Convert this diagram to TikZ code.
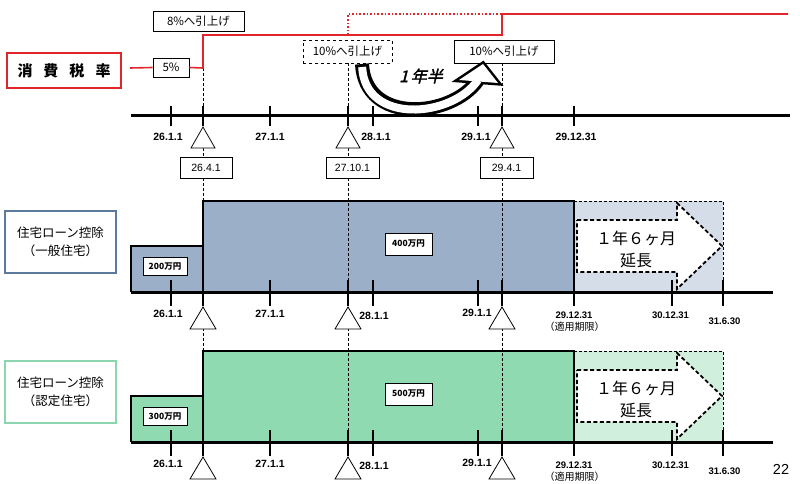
\documentclass[tikz,border=0pt]{standalone}
\usepackage{fontspec}
\setmainfont{Noto Sans CJK JP}
\newfontfamily\latinf{Liberation Sans}
\newfontfamily\jpslant[FakeSlant=0.25,FakeBold=2]{Noto Sans CJK JP}
\definecolor{taxred}{HTML}{E0262B}
\definecolor{bluefill}{HTML}{9BAFC9}
\definecolor{bluelight}{HTML}{D5DDE8}
\definecolor{blueedge}{HTML}{5B7A9C}
\definecolor{greenfill}{HTML}{8FDAB0}
\definecolor{greenlight}{HTML}{D0F0DD}
\definecolor{greenedge}{HTML}{8CD5AE}
\tikzset{
  tline/.style={line width=3pt},
  tickline/.style={line width=2pt},
  guide/.style={line width=0.6pt, dash pattern=on 3pt off 2pt},
  wbox/.style={draw, fill=white, line width=0.9pt, inner sep=0pt, align=center},
  jpbox/.style={wbox, font=\fontsize{11.5}{13}\selectfont},
  manbox/.style={wbox, font=\bfseries\fontsize{8.5}{10}\selectfont},
  datebox/.style={wbox, font=\latinf\fontsize{10.5}{12}\selectfont, minimum height=21pt},
  datelab/.style={font=\latinf\bfseries\fontsize{10.5}{12}\selectfont, inner sep=0pt},
  smalldate/.style={font=\latinf\bfseries\fontsize{9.5}{11}\selectfont, inner sep=0pt},
  tri/.style={draw, fill=white, line width=0.8pt},
  redline/.style={taxred, line width=1.6pt},
}
\begin{document}
\begin{tikzpicture}[x=1pt,y=-1pt]
\useasboundingbox (0,0) rectangle (800,484);

% ---------- sections 2 and 3: fills ----------
\foreach \oy/\fc/\lc in {0/bluefill/bluelight, 150/greenfill/greenlight}{
  \fill[\fc] (131,{246+\oy}) rectangle (203,{292+\oy});
  \fill[\fc] (203,{201+\oy}) rectangle (574,{292+\oy});
  \fill[\lc] (574,{201+\oy}) rectangle (723,{292+\oy});
}

% ---------- guide lines ----------
\draw[guide] (203,68) -- (203,470);
\draw[guide] (348,63) -- (348,470);
\draw[guide] (502,63) -- (502,470);

% ---------- top section ----------
\node[draw=taxred, line width=2pt, minimum width=114pt, minimum height=35pt, inner sep=0pt,
      font=\bfseries\fontsize{15}{17}\selectfont] (tax) at (64,70.5)
      {消\hspace{11pt}費\hspace{11pt}税\hspace{11pt}率};
\node[jpbox, minimum width=36pt, minimum height=19pt] (five) at (171,67.5) {5\%};
\node[jpbox, minimum width=91pt, minimum height=20pt] (eight) at (198.5,21) {8\%へ引上げ};
\node[jpbox, dashed, minimum width=89pt, minimum height=23pt] (tenA) at (347.5,51.5) {10\%へ引上げ};
\node[jpbox, minimum width=100pt, minimum height=23pt] (tenB) at (504,51.5) {10\%へ引上げ};

\draw[redline] (130,68) -- (five.west);
\draw[redline] (five.east) -- (203,68) -- (203,35) -- (502,35) -- (502,14) -- (788,14);
\draw[redline, dotted] (348,35) -- (348,14) -- (502,14);

% curved arrow 1年半
\draw[line width=14pt] (362,64) .. controls (365,125) and (452,118) .. (478,80);
\draw[line width=5pt, line join=miter] (483,64) -- (498,83) -- (459,80) -- cycle;
\draw[line width=8pt, white, shorten <=3pt] (362,64) .. controls (365,125) and (452,118) .. (478,80);
\fill[white] (483,64) -- (498,83) -- (459,80) -- cycle;
\node[font=\jpslant\fontsize{16}{18}\selectfont] (oneyh) at (421,76) {1\,年半};

% timeline 1
\draw[tline] (131,116) -- (790,116);
\foreach \x in {171,203,270,348,373,478,502,574}{
  \draw[tickline] (\x,106) -- (\x,126);
}
\node[datelab] (t1a) at (168,137) {26.1.1};
\node[datelab] (t1b) at (270,137) {27.1.1};
\node[datelab] (t1c) at (376,137) {28.1.1};
\node[datelab] (t1d) at (476,137) {29.1.1};
\node[datelab] (t1e) at (576,137) {29.12.31};
\foreach \x in {203,348,502}{
  \draw[tri] (\x,127) -- ({\x+12},148) -- ({\x-12},148) -- cycle;
}
\node[datebox, minimum width=52pt] (dA) at (206,168) {26.4.1};
\node[datebox, minimum width=53pt] (dB) at (352.5,168) {27.10.1};
\node[datebox, minimum width=53pt] (dC) at (506.5,168) {29.4.1};

% ---------- sections 2 and 3 ----------
\foreach \oy/\ec/\kind/\low/\high/\id in {0/blueedge/一般住宅/200/400/a, 150/greenedge/認定住宅/300/500/b}{
  % borders
  \draw[line width=1.5pt] (131,{292+\oy}) -- (131,{246+\oy}) -- (203,{246+\oy});
  \draw[line width=2.5pt] (203,{292+\oy}) -- (203,{201+\oy}) -- (574,{201+\oy}) -- (574,{292+\oy});
  \draw[line width=1pt, dash pattern=on 3pt off 2pt] (574,{201+\oy}) -- (723,{201+\oy}) -- (723,{292+\oy});
  % label box
  \node[draw=\ec, line width=1.8pt, minimum width=111pt, minimum height=62pt, inner sep=0pt,
        align=center, font=\fontsize{12.5}{18}\selectfont] (lab\id) at (60.5,{242+\oy})
        {住宅ローン控除\\（\kind）};
  % amount boxes
  \node[manbox, minimum width=44pt, minimum height=18pt] (low\id) at (165,{266.5+\oy}) {\low 万円};
  \node[manbox, minimum width=47pt, minimum height=22pt] (high\id) at (408.5,{244+\oy}) {\high 万円};
  % extension arrow
  \draw[line width=1.8pt, dash pattern=on 4pt off 2.5pt, fill=white]
    (577,{220+\oy}) -- (677,{220+\oy}) -- (677,{203+\oy}) -- (722,{246+\oy})
    -- (677,{289+\oy}) -- (677,{272+\oy}) -- (577,{272+\oy}) -- cycle;
  \node[align=center, font=\fontsize{16}{22}\selectfont] (ext\id) at (636,{249+\oy}) {１年６ヶ月\\延長};
  % timeline
  \draw[tline] (131,{292+\oy}) -- (773,{292+\oy});
  \foreach \x in {171,203,270,348,373,478,502,574,672,723}{
    \draw[tickline] (\x,{280+\oy}) -- (\x,{306+\oy});
  }
  \foreach \x in {203,348,502}{
    \draw[tri] (\x,{307+\oy}) -- ({\x+13},{329+\oy}) -- ({\x-13},{329+\oy}) -- cycle;
  }
  \node[datelab] (u\id a) at (168,{314+\oy}) {26.1.1};
  \node[datelab] (u\id b) at (270,{314+\oy}) {27.1.1};
  \node[datelab] (u\id c) at (374,{316+\oy}) {28.1.1};
  \node[datelab] (u\id d) at (477,{313+\oy}) {29.1.1};
  \node[smalldate] (u\id e) at (574,{315+\oy}) {29.12.31};
  \node[inner sep=0pt, font=\fontsize{10}{12}\selectfont] (u\id f) at (574.5,{327+\oy}) {（適用期限）};
  \node[smalldate] (u\id g) at (670.5,{315+\oy}) {30.12.31};
  \node[smalldate] (u\id h) at (724.5,{321+\oy}) {31.6.30};
}

\node[font=\latinf\fontsize{14.5}{16}\selectfont, inner sep=0pt] (page) at (781,469) {22};
\end{tikzpicture}
\end{document}
